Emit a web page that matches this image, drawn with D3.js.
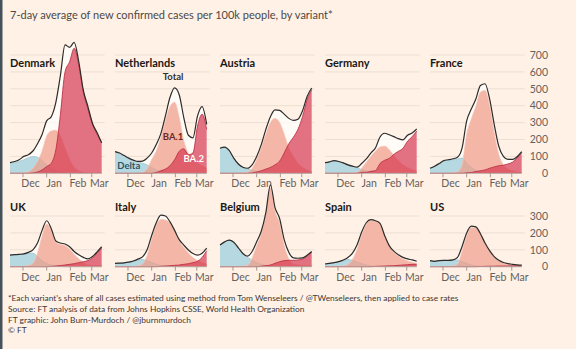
<!DOCTYPE html>
<html>
<head>
<meta charset="utf-8">
<script src="https://cdn.jsdelivr.net/npm/d3@7"></script>
<style>
  body { margin: 0; background: #fff1e5; }
  svg { display: block; }
  text { font-family: Lato, "Open Sans", sans-serif; }
</style>
</head>
<body>
<svg id="chart" width="576" height="349"></svg>
<script>
// 7-day averages per 100k (6-day steps)
var dates = ["2021-11-14","2021-11-20","2021-11-26","2021-12-02","2021-12-08","2021-12-14","2021-12-20",
  "2021-12-26","2022-01-01","2022-01-07","2022-01-13","2022-01-19","2022-01-25","2022-01-31",
  "2022-02-06","2022-02-12","2022-02-18","2022-02-24","2022-03-02","2022-03-08","2022-03-14"]

var monthTicks = ["2021-12-01","2022-01-01","2022-02-01","2022-03-01"]
var monthLabels = ["Dec","Jan","Feb","Mar"]

var topRow = ["Denmark","Netherlands","Austria","Germany","France"]
var bottomRow = ["UK","Italy","Belgium","Spain","US"]
var topTicks = [0,100,200,300,400,500,600,700]
var bottomTicks = [0,100,200,300]

var dkTotal = [63,70,80,100,110,132,175,230,310,335,420,580,760,745,775,660,490,395,295,240,180]
var dkDelta = [60,64,70,80,92,100,95,75,50,30,15,7,3,0,0,0,0,0,0,0,0]
var dkBA1   = [0,0,0,2,8,30,70,130,220,250,255,220,150,80,35,15,5,2,0,0,0]
var dkBA2   = [0,0,0,0,0,2,8,20,40,60,140,350,600,660,740,640,480,380,290,230,180]

var nlTotal = [128,120,105,90,78,70,72,90,120,170,235,340,450,505,465,330,225,210,340,395,290]
var nlDelta = [125,118,103,88,75,66,60,50,35,20,10,5,2,0,0,0,0,0,0,0,0]
var nlBA1   = [0,0,0,0,0,0,5,25,80,130,210,310,394,420,330,190,118,90,60,45,30]
var nlBA2   = [0,0,0,0,0,0,0,0,0,5,15,25,45,80,130,145,110,120,280,350,260]

var atTotal = [148,155,135,90,55,36,30,50,100,170,260,335,375,372,350,325,313,320,370,455,505]
var atDelta = [148,155,135,90,55,34,24,18,12,8,5,2,0,0,0,0,0,0,0,0,0]
var atBA1   = [0,0,0,0,0,2,6,28,80,150,230,300,325,300,230,150,100,60,35,20,10]
var atBA2   = [0,0,0,0,0,0,0,2,8,15,25,35,50,72,120,175,213,260,335,435,495]

var deTotal = [63,68,75,70,62,50,42,36,58,85,120,150,215,237,228,217,205,198,225,238,262]
var deDelta = [63,68,75,70,62,50,40,32,22,14,8,4,2,0,0,0,0,0,0,0,0]
var deBA1   = [0,0,0,0,0,0,2,4,30,65,100,130,155,160,140,105,75,50,35,22,12]
var deBA2   = [0,0,0,0,0,0,0,0,6,6,12,16,58,77,88,112,130,148,190,216,250]

var frTotal = [30,42,58,75,80,86,95,150,310,380,440,520,530,440,290,160,100,82,82,98,128]
var frDelta = [30,42,58,74,78,80,85,90,60,35,18,8,4,2,0,0,0,0,0,0,0]
var frBA1   = [0,0,0,0,0,3,8,50,230,320,395,480,490,400,240,110,50,25,15,8,5]
var frBA2   = [0,0,0,0,0,0,0,0,3,5,10,15,20,30,38,45,48,55,66,90,123]

var ukTotal = [69,71,73,76,85,100,140,215,272,225,152,140,134,118,90,70,55,46,60,88,118]
var ukDelta = [69,71,73,74,78,80,60,35,20,10,5,2,0,0,0,0,0,0,0,0,0]
var ukBA1   = [0,0,0,2,7,20,80,180,252,213,143,131,124,104,72,46,25,10,8,6,6]
var ukBA2   = [0,0,0,0,0,0,0,0,0,2,4,7,10,14,18,24,30,36,52,82,112]

var itTotal = [20,21,23,27,34,45,58,100,185,260,305,300,265,215,160,128,99,78,68,80,110]
var itDelta = [20,21,23,27,33,40,42,35,25,15,8,4,2,0,0,0,0,0,0,0,0]
var itBA1   = [0,0,0,0,0,5,16,65,160,245,280,276,257,207,150,114,81,54,36,25,15]
var itBA2   = [0,0,0,0,0,0,0,0,0,0,2,4,6,8,10,14,18,24,32,55,95]

var beTotal = [128,147,157,145,112,78,62,90,148,210,320,485,350,285,160,85,52,50,52,68,90]
var beDelta = [128,147,157,145,112,75,55,40,25,14,8,4,2,0,0,0,0,0,0,0,0]
var beBA1   = [0,0,0,0,0,3,7,50,123,193,306,466,328,255,124,47,14,10,7,6,5]
var beBA2   = [0,0,0,0,0,0,0,0,0,3,6,10,20,30,36,38,38,40,45,62,85]

var esTotal = [16,20,24,30,40,55,80,130,205,260,278,272,256,185,125,92,70,55,46,40,32]
var esDelta = [16,20,24,29,36,42,38,28,18,10,5,2,0,0,0,0,0,0,0,0,0]
var esBA1   = [0,0,0,1,4,13,42,102,187,250,273,268,253,181,120,86,62,45,34,26,17]
var esBA2   = [0,0,0,0,0,0,0,0,0,0,0,2,3,4,5,6,8,10,12,14,15]

var usTotal = [36,32,36,38,37,40,55,120,200,240,236,195,140,95,60,38,25,18,14,11,9]
var usDelta = [36,32,36,38,36,36,40,30,20,10,5,2,0,0,0,0,0,0,0,0,0]
var usBA1   = [0,0,0,0,1,4,15,90,180,230,231,192,138,92,57,34,21,14,9,6,4]
var usBA2   = [0,0,0,0,0,0,0,0,0,0,0,1,2,3,3,4,4,4,5,5,5]

var nlNotes = [
  { label: "Total", date: "2022-01-29", value: 553, fill: "#33302e" },
  { label: "BA.1",  date: "2022-01-29", value: 197, fill: "#6e2a22" },
  { label: "BA.2",  date: "2022-02-25", value: 66,  fill: "#ffffff" },
  { label: "Delta", date: "2021-12-02", value: 25,  fill: "#2f5566" }
]

var series = {
  Denmark: [dkTotal, dkDelta, dkBA1, dkBA2],
  Netherlands: [nlTotal, nlDelta, nlBA1, nlBA2],
  Austria: [atTotal, atDelta, atBA1, atBA2],
  Germany: [deTotal, deDelta, deBA1, deBA2],
  France: [frTotal, frDelta, frBA1, frBA2],
  UK: [ukTotal, ukDelta, ukBA1, ukBA2],
  Italy: [itTotal, itDelta, itBA1, itBA2],
  Belgium: [beTotal, beDelta, beBA1, beBA2],
  Spain: [esTotal, esDelta, esBA1, esBA2],
  US: [usTotal, usDelta, usBA1, usBA2]
}

var parse = d3.utcParse("%Y-%m-%d")
var days = dates.map(parse)

var panelLeft = 10, panelPitch = 105, panelWidth = 91.7
var pxPerCase = 0.169

var x = d3.scaleUtc()
    .domain([parse("2021-11-14"), parse("2022-03-14")])
    .range([0, panelWidth])

var svg = d3.select("#chart")

svg.append("rect").attr("width", 576).attr("height", 349).attr("fill", "#fff1e5")
svg.append("rect").attr("width", 2.5).attr("height", 349).attr("fill", "#46525a")

svg.append("text")
    .attr("x", 10).attr("y", 19)
    .attr("font-size", 11)
    .attr("fill", "#4d4845")
    .text("7-day average of new confirmed cases per 100k people, by variant*")

var variants = [
  { idx: 1, fill: "#a9d2dd", stroke: "#9cc5d1", opacity: 0.85 },
  { idx: 2, fill: "#f09b88", stroke: "#f6c2b4", opacity: 0.72 },
  { idx: 3, fill: "#d73b53", stroke: "#b8283f", opacity: 0.72 }
]

function drawRow(names, base, ticks, labelY) {
    var maxV = ticks[ticks.length - 1]
    var y = d3.scaleLinear()
        .domain([0, maxV])
        .range([base, base - maxV * pxPerCase])

    names.forEach(function(name, col) {
        var g = svg.append("g")
            .attr("transform", "translate(" + (panelLeft + col * panelPitch) + ",0)")

        // gridlines
        g.selectAll("line.grid")
            .data(ticks.slice(1))
            .enter().append("line")
            .attr("class", "grid")
            .attr("x1", 0).attr("x2", panelWidth + 3)
            .attr("y1", function(d) { return y(d) })
            .attr("y2", function(d) { return y(d) })
            .attr("stroke", "#ecdfd3")
            .attr("stroke-width", 1)

        var s = series[name]
        var pts = function(arr) { return arr.map(function(v, i) { return [days[i], v] }) }

        var area = d3.area()
            .x(function(d) { return x(d[0]) })
            .y0(y(0))
            .y1(function(d) { return y(d[1]) })
            .curve(d3.curveMonotoneX)
        var line = d3.line()
            .x(function(d) { return x(d[0]) })
            .y(function(d) { return y(d[1]) })
            .curve(d3.curveMonotoneX)

        g.append("path")
            .attr("d", area(pts(s[0])))
            .attr("fill", "#ffffff")
            .attr("fill-opacity", 0.7)

        variants.forEach(function(v) {
            g.append("path")
                .attr("d", area(pts(s[v.idx])))
                .attr("fill", v.fill)
                .attr("fill-opacity", v.opacity)
            g.append("path")
                .attr("d", line(pts(s[v.idx])))
                .attr("fill", "none")
                .attr("stroke", v.stroke)
                .attr("stroke-width", 0.8)
        })

        g.append("path")
            .attr("d", line(pts(s[0])))
            .attr("fill", "none")
            .attr("stroke", "#2e2b29")
            .attr("stroke-width", 1.2)

        // x axis
        var axis = g.append("g").attr("transform", "translate(0," + y(0) + ")")
        axis.append("line")
            .attr("x1", 0).attr("x2", panelWidth)
            .attr("stroke", "#b9aea4").attr("stroke-width", 0.8)
        axis.selectAll("line.tick")
            .data(monthTicks)
            .enter().append("line")
            .attr("class", "tick")
            .attr("x1", function(d) { return x(parse(d)) })
            .attr("x2", function(d) { return x(parse(d)) })
            .attr("y1", 0).attr("y2", 4)
            .attr("stroke", "#8f8680").attr("stroke-width", 0.8)
        axis.selectAll("text")
            .data(monthTicks)
            .enter().append("text")
            .attr("x", function(d) { return x(parse(d)) + 7.5 })
            .attr("y", 14)
            .attr("text-anchor", "middle")
            .attr("font-size", 10.5)
            .attr("fill", "#66605c")
            .text(function(d, i) { return monthLabels[i] })

        g.append("text")
            .attr("x", 0).attr("y", labelY)
            .attr("font-size", 11)
            .attr("font-weight", "bold")
            .attr("fill", "#1a1816")
            .text(name)

        if (name === "Netherlands") {
            g.selectAll("text.note")
                .data(nlNotes)
                .enter().append("text")
                .attr("class", "note")
                .attr("x", function(d) { return x(parse(d.date)) })
                .attr("y", function(d) { return y(d.value) })
                .attr("text-anchor", "middle")
                .attr("font-size", 9.5)
                .attr("font-weight", "bold")
                .attr("fill", function(d) { return d.fill })
                .text(function(d) { return d.label })
        }

        if (col === names.length - 1) {
            g.selectAll("text.ylab")
                .data(ticks)
                .enter().append("text")
                .attr("class", "ylab")
                .attr("x", 118)
                .attr("y", function(d) { return y(d) + 3.7 })
                .attr("text-anchor", "end")
                .attr("font-size", 10.5)
                .attr("fill", "#66605c")
                .text(function(d) { return d })
        }
    })
}

drawRow(topRow, 173.3, topTicks, 67)
drawRow(bottomRow, 266.7, bottomTicks, 211)

var notes = [
  "*Each variant's share of all cases estimated using method from Tom Wenseleers / @TWenseleers, then applied to case rates",
  "Source: FT analysis of data from Johns Hopkins CSSE, World Health Organization",
  "FT graphic: John Burn-Murdoch / @jburnmurdoch",
  "\u00a9 FT"
]
svg.selectAll("text.foot")
    .data(notes)
    .enter().append("text")
    .attr("class", "foot")
    .attr("x", 8)
    .attr("y", function(d, i) { return 301 + i * 10.8 })
    .attr("font-size", 8.4)
    .attr("fill", "#3b3735")
    .text(function(d) { return d })
</script>
</body>
</html>
